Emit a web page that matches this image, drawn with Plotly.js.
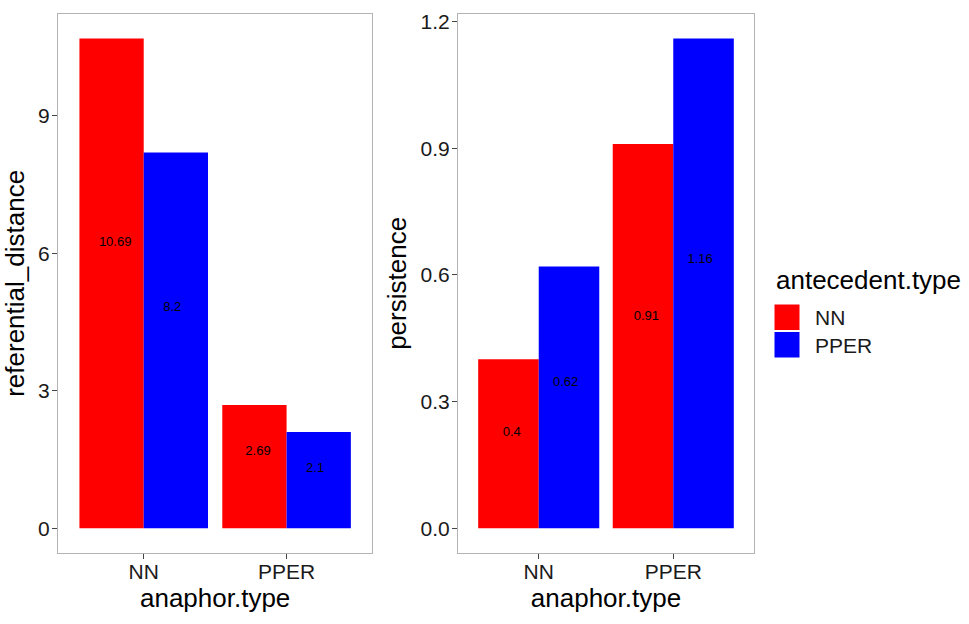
<!DOCTYPE html>
<html>
<head>
<meta charset="utf-8">
<script src="https://cdn.plot.ly/plotly-3.0.1.min.js"></script>
<style>
html, body { margin: 0; padding: 0; background: #fff; }
#chart { width: 969px; height: 624px; }
</style>
</head>
<body>
<div id="chart"></div>
<script>
const anaphorTypes = ["NN", "PPER"];
const antecedentTypes = ["NN", "PPER"];
const fillColors = ["#FF0000", "#0000FF"];

// referential_distance, one array per antecedent type, over anaphor types
const distNN = [10.69, 2.69];
const distPPER = [8.2, 2.1];
// persistence
const persNN = [0.4, 0.91];
const persPPER = [0.62, 1.16];

// heights the value labels sit at in the picture
const distLabelNN = [6.24, 1.66];
const distLabelPPER = [4.81, 1.29];
const persLabelNN = [0.227, 0.5];
const persLabelPPER = [0.345, 0.635];

const W = 969, H = 624;
const font = "Liberation Sans, Arial, Helvetica, sans-serif";
const xIdx = anaphorTypes.map((_, i) => i + 1);

function bars(vals, k, xa, ya) {
	return {
		type: "bar",
		x: xIdx,
		y: vals,
		width: 0.45,
		offset: k === 0 ? -0.45 : 0,
		marker: { color: fillColors[k], line: { width: 0 } },
		xaxis: xa,
		yaxis: ya,
		showlegend: false,
		hoverinfo: "none",
	};
}

function labels(vals, pos, k, xa, ya) {
	return {
		type: "scatter",
		mode: "text",
		x: xIdx.map((x) => x + (k === 0 ? -0.2 : 0.2)),
		y: pos,
		text: vals.map(String),
		textposition: "middle center",
		textfont: { family: font, size: 13, color: "#000" },
		xaxis: xa,
		yaxis: ya,
		showlegend: false,
		hoverinfo: "none",
	};
}

const data = [
	bars(distNN, 0, "x", "y"),
	bars(distPPER, 1, "x", "y"),
	bars(persNN, 0, "x2", "y2"),
	bars(persPPER, 1, "x2", "y2"),
	labels(distNN, distLabelNN, 0, "x", "y"),
	labels(distPPER, distLabelPPER, 1, "x", "y"),
	labels(persNN, persLabelNN, 0, "x2", "y2"),
	labels(persPPER, persLabelPPER, 1, "x2", "y2"),
];

// ggplot-like 5% expansion around [0, max]
function expand(vals) {
	const m = Math.max(...vals);
	return [-0.05 * m, 1.05 * m];
}

const yDomain = [1 - 552.7 / H, 1 - 14 / H];

function xAxis(x0, x1, anchor) {
	return {
		domain: [x0 / W, x1 / W],
		anchor: anchor,
		range: [0.4, 2.6],
		tickvals: xIdx,
		ticktext: anaphorTypes,
		showgrid: false,
		zeroline: false,
		showline: true,
		mirror: true,
		linecolor: "#b3b3b3",
		linewidth: 1,
		ticks: "outside",
		ticklen: 5,
		tickcolor: "#444",
		ticklabelstandoff: -5,
		tickfont: { family: font, size: 21, color: "#1a1a1a" },
		title: { text: "anaphor.type", font: { family: font, size: 26, color: "#000" }, standoff: 3 },
		fixedrange: true,
	};
}

function yAxis(vals, dtick, fmt, name, anchor) {
	return {
		domain: yDomain,
		anchor: anchor,
		range: expand(vals),
		tick0: 0,
		dtick: dtick,
		tickformat: fmt,
		showgrid: false,
		zeroline: false,
		showline: true,
		mirror: true,
		linecolor: "#b3b3b3",
		linewidth: 1,
		ticks: "outside",
		ticklen: 5,
		tickcolor: "#444",
		ticklabelstandoff: -2,
		tickfont: { family: font, size: 21, color: "#1a1a1a" },
		title: { text: name, font: { family: font, size: 26, color: "#000" }, standoff: 6 },
		fixedrange: true,
	};
}

// legend drawn by hand so the keys can be as large as ggplot's
const shapes = [];
const annotations = [
	{
		xref: "paper", yref: "paper",
		x: 774 / W, y: 1 - 280 / H,
		xanchor: "left", yanchor: "middle",
		text: "antecedent.type",
		showarrow: false,
		font: { family: font, size: 26, color: "#000" },
	},
];
antecedentTypes.forEach((name, i) => {
	const top = 304 + i * 27.5;
	shapes.push({
		type: "rect", xref: "paper", yref: "paper",
		x0: 774 / W, x1: 800 / W,
		y0: 1 - top / H, y1: 1 - (top + 26.5) / H,
		fillcolor: fillColors[i],
		line: { color: "#fff", width: 1 },
	});
	annotations.push({
		xref: "paper", yref: "paper",
		x: 813 / W, y: 1 - (top + 13.5) / H,
		xanchor: "left", yanchor: "middle",
		text: name,
		showarrow: false,
		font: { family: font, size: 21, color: "#1a1a1a" },
	});
});

const layout = {
	width: W,
	height: H,
	paper_bgcolor: "#fff",
	plot_bgcolor: "#fff",
	margin: { l: 0, r: 0, t: 0, b: 0 },
	xaxis: xAxis(58, 372.3, "y"),
	yaxis: yAxis(distNN.concat(distPPER), 3, "d", "referential_distance", "x"),
	xaxis2: xAxis(458, 754, "y2"),
	yaxis2: yAxis(persNN.concat(persPPER), 0.3, ".1f", "persistence", "x2"),
	shapes: shapes,
	annotations: annotations,
	showlegend: false,
};

const config = {
	displayModeBar: false,
	staticPlot: true,
};

Plotly.newPlot("chart", data, layout, config);
</script>
</body>
</html>
